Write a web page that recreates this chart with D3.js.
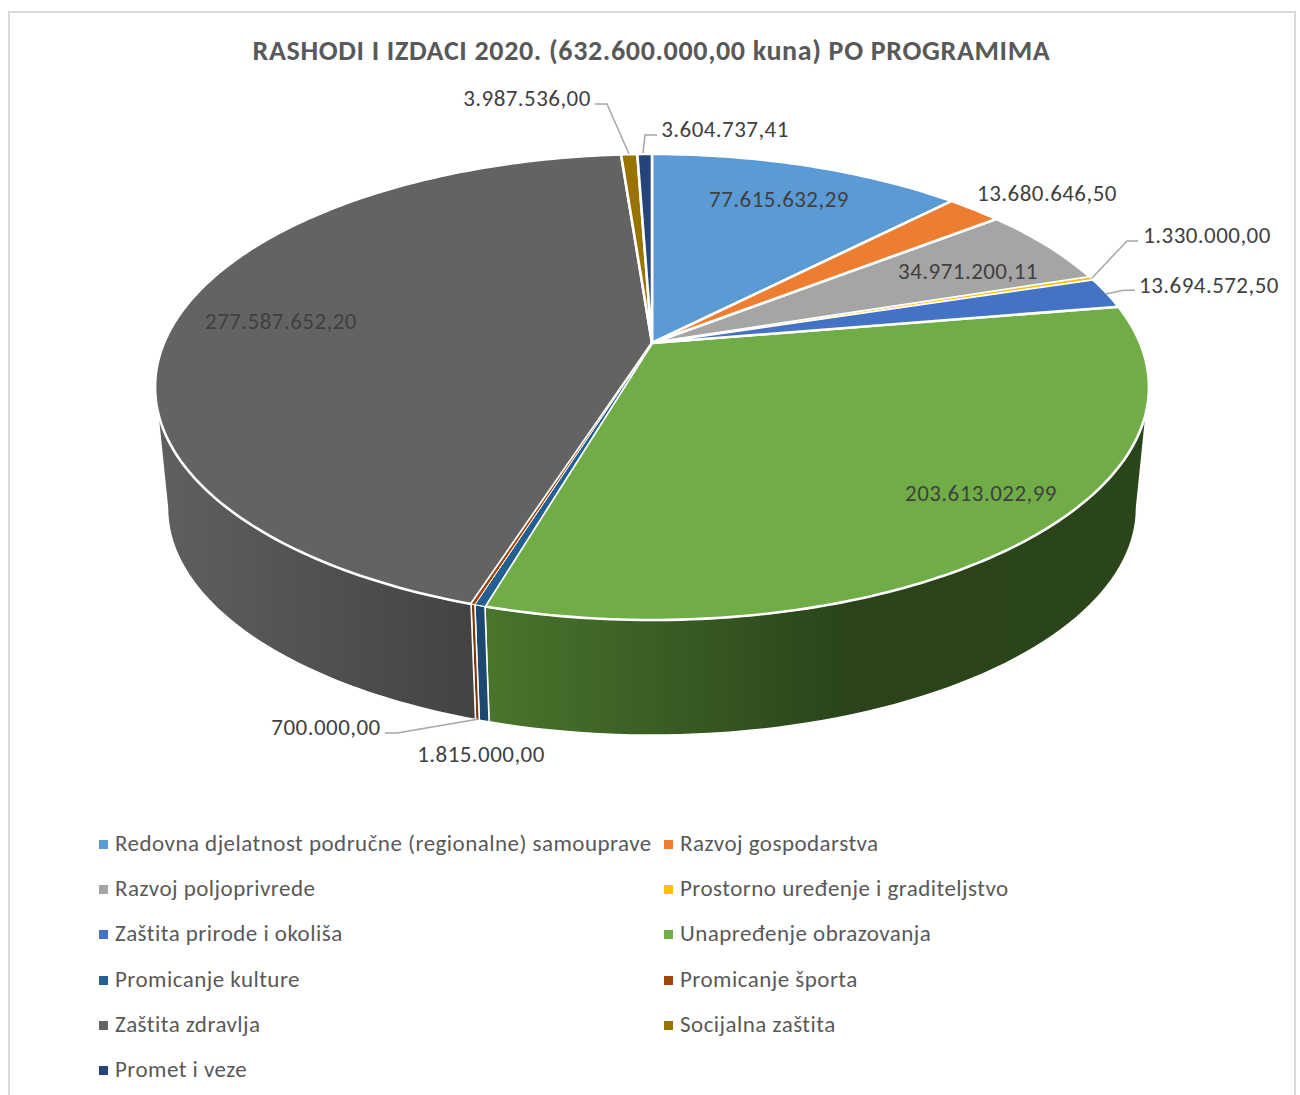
<!DOCTYPE html>
<html><head><meta charset="utf-8"><script src="https://cdn.jsdelivr.net/npm/d3@7/dist/d3.min.js"></script>
<style>html,body{margin:0;padding:0;background:#fff}svg{display:block}text{font-family:Carlito,Lato,"Open Sans",sans-serif}</style></head><body><div id="c"></div>
<script>
const categories=["Redovna djelatnost područne (regionalne) samouprave","Razvoj gospodarstva","Razvoj poljoprivrede","Prostorno uređenje i graditeljstvo","Zaštita prirode i okoliša","Unapređenje obrazovanja","Promicanje kulture","Promicanje športa","Zaštita zdravlja","Socijalna zaštita","Promet i veze"];
const values=[77615632.29,13680646.50,34971200.11,1330000,13694572.50,203613022.99,1815000,700000,277587652.20,3987536,3604737.41];
const labels=["77.615.632,29","13.680.646,50","34.971.200,11","1.330.000,00","13.694.572,50","203.613.022,99","1.815.000,00","700.000,00","277.587.652,20","3.987.536,00","3.604.737,41"];
const colors=["#5b9bd5","#ed7d31","#a5a5a5","#ffc000","#4472c4","#70ad47","#255e91","#9e480e","#636363","#997300","#264478"];
const title="RASHODI I IZDACI 2020. (632.600.000,00 kuna) PO PROGRAMIMA";
const W=1300,H=1095,cx=652,cy=343;
// perspective disc: far rim 154, near rim 620, left/right 156/1148
const persp=0.1888,B=488,A=224.7,lowerScale=0.975,lowerDrop=122;
const fx=a=>B*Math.sin(a)/(1+persp*Math.cos(a));
const fy=a=>-A*Math.cos(a)/(1+persp*Math.cos(a));
const topPt=a=>[cx+fx(a),cy+fy(a)];
const botPt=a=>[cx+lowerScale*fx(a),cy+lowerDrop+lowerScale*fy(a)];
const silhouette=Math.acos(-persp);
const labelPos=[[779,199],[1047,193],[968,271],[1207,235],[1209,285],[981,493],[481,754],[326,727],[281,321],[527,98],[725,129]];
const leaders=[null,null,null,[[1138,241],[1127,241],[1092,278]],[[1135,290],[1122,290.5],[1106,294]],null,null,[[385,733],[397,733],[479,719]],null,[[595,104],[607,104],[629,154]],[[657,135],[645,135],[643,153]]];
const svg=d3.select("#c").append("svg").attr("width",W).attr("height",H);
const color=d3.scaleOrdinal().domain(categories).range(colors);
svg.append("rect").attr("x",9).attr("y",12).attr("width",1286).attr("height",1100).attr("fill","#fff").attr("stroke","#d9d9d9").attr("stroke-width",2);
svg.append("text").attr("x",651.5).attr("y",60).attr("text-anchor","middle").attr("font-size",28).attr("letter-spacing",.65).attr("font-weight",700).attr("fill","#595959").text(title);
const pie=d3.pie().sort(null).value(d=>d)(values);
const defs=svg.append("defs");
function wall(d,i){
  const s=Math.max(d.startAngle,silhouette),e=Math.min(d.endAngle,2*Math.PI-silhouette);
  if(e<=s)return;
  const id="g"+i;
  const g=defs.append("linearGradient").attr("id",id).attr("gradientUnits","userSpaceOnUse").attr("x1",topPt(s)[0]).attr("x2",topPt(e)[0]).attr("y1",0).attr("y2",0);
  if(i===5){[[0,"#2b451b"],[.45,"#2a431a"],[1,"#4a752c"]].forEach(p=>g.append("stop").attr("offset",p[0]).attr("stop-color",p[1]));}
  else if(i===8){[[0,"#434343"],[1,"#606060"]].forEach(p=>g.append("stop").attr("offset",p[0]).attr("stop-color",p[1]));}
  else {g.append("stop").attr("stop-color",d3.color(colors[i]).darker(.7).formatHex());}
  const n=60,pts=d3.range(n+1).map(k=>s+(e-s)*k/n);
  const outline=pts.map(topPt).concat(pts.slice().reverse().map(botPt));
  svg.append("path").attr("d",d3.line()(outline)+"Z").attr("fill",`url(#${id})`).attr("stroke","#fff").attr("stroke-width",1.5).attr("stroke-linejoin","round");
}
pie.forEach(wall);
// largest slices first, so the thinnest stay visible on top
d3.range(pie.length).sort((a,b)=>values[b]-values[a]).forEach(i=>{
  const d=pie[i];
  const span=d.endAngle-d.startAngle;
  const n=Math.max(2,Math.ceil(span*60));
  const pts=d3.range(n+1).map(k=>topPt(d.startAngle+span*k/n));
  svg.append("path").attr("d",d3.line()([[cx,cy],...pts])+"Z").attr("fill",color(categories[i])).attr("stroke","#fff").attr("stroke-width",span<0.03?1:2.6).attr("stroke-linejoin","round");
});
leaders.forEach(l=>{if(l)svg.append("path").attr("d",d3.line()(l)).attr("fill","none").attr("stroke","#a6a6a6").attr("stroke-width",1.5);});
labels.forEach((t,i)=>{
  svg.append("text").attr("x",labelPos[i][0]).attr("y",labelPos[i][1]+7.5).attr("text-anchor","middle").attr("font-size",23).attr("letter-spacing",.45).attr("fill","#404040").text(t);
});
const colX=[99,664],rowY=[844,889,934,980,1025,1070];
categories.forEach((c,i)=>{
  const x=colX[i%2],y=rowY[Math.floor(i/2)];
  svg.append("rect").attr("x",x).attr("y",y-4).attr("width",9).attr("height",9).attr("fill",color(c));
  svg.append("text").attr("x",x+16).attr("y",y+6.5).attr("font-size",23).attr("letter-spacing",.47).attr("fill","#595959").text(c);
});
</script></body></html>
